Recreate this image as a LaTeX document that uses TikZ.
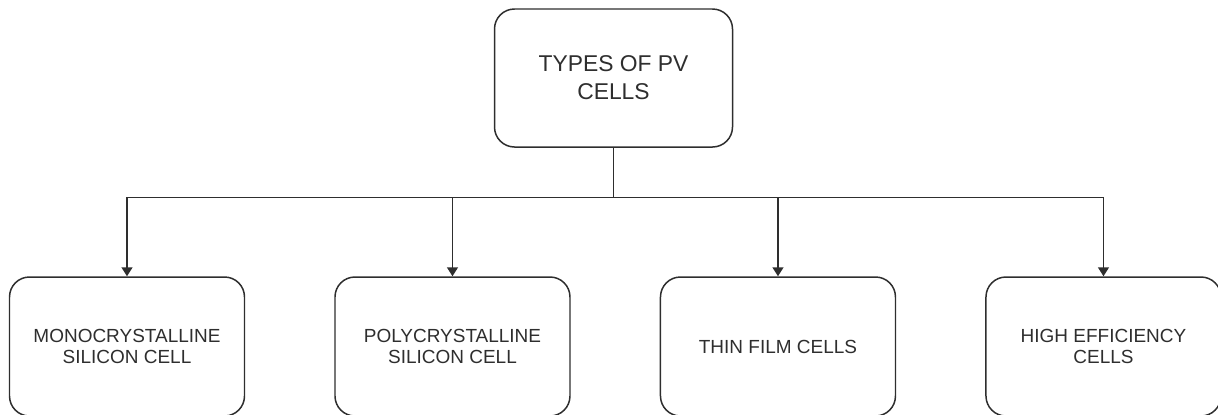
\documentclass[tikz,border=0pt]{standalone}
\usepackage{fontspec}
\setmainfont{Liberation Sans}
\usepackage{xcolor}
\usetikzlibrary{
    arrows.meta,
    positioning,
    calc
}
\definecolor{linegray}{HTML}{2E2E2E}
\tikzset{
    rootbox/.style={
        rectangle,
        rounded corners=0.4cm,
        draw=linegray,
        line width=0.85pt,
        align=center,
        minimum height=2.76cm,
        minimum width=4.76cm,
        text=linegray,
        font=\fontsize{13}{15.9}\selectfont
    },
    cellbox/.style={
        rectangle,
        rounded corners=0.4cm,
        draw=linegray,
        line width=0.85pt,
        align=center,
        minimum height=2.78cm,
        minimum width=4.7cm,
        text=linegray,
        font=\fontsize{10.8}{11.9}\selectfont
    },
    arrow/.style={
        -{Triangle[length=1.8mm, width=2.2mm]},
        draw=linegray,
        line width=0.85pt
    },
    line/.style={
        draw=linegray,
        line width=0.85pt
    }
}

\begin{document}
\begin{tikzpicture}[node distance=1.78cm]
\useasboundingbox (0,0) rectangle (24.36,-8.28);
\node[rootbox] (types) at (12.27,-1.56) {TYPES OF PV\\CELLS};
\node[cellbox] (mono) at (2.54,-6.93) {MONOCRYSTALLINE\\SILICON CELL};
\node[cellbox, right=of mono] (poly) {POLYCRYSTALLINE\\SILICON CELL};
\node[cellbox, right=of poly] (thin) {THIN FILM CELLS};
\node[cellbox, right=of thin] (high) {HIGH EFFICIENCY\\CELLS};
\coordinate (hub) at ($(types.south)+(0,-1)$);

\draw[line] (types.south) -- (hub);
\foreach \cell in {mono, poly, thin, high}
    \draw[arrow] (hub) -| (\cell.north);
\end{tikzpicture}
\end{document}
